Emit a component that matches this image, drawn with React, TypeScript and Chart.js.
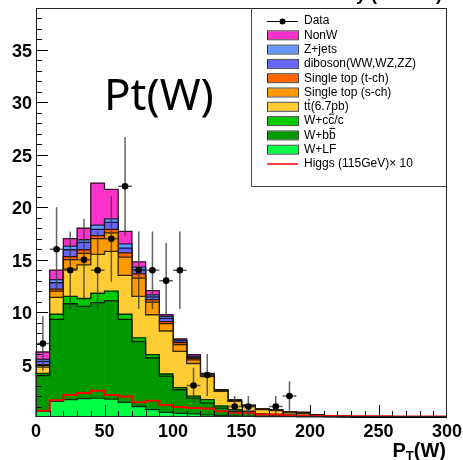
import React, { useEffect, useRef } from 'react';
import { Chart, registerables } from 'chart.js';

Chart.register(...registerables);

// 30 bins of 10 GeV in P_T(W)
const binCenters = [5, 15, 25, 35, 45, 55, 65, 75, 85, 95, 105, 115, 125, 135, 145, 155, 165, 175, 185, 195, 205, 215, 225, 235, 245, 255, 265, 275, 285, 295];
const binEdges = [0, 10, 20, 30, 40, 50, 60, 70, 80, 90, 100, 110, 120, 130, 140, 150, 160, 170, 180, 190, 200, 210, 220, 230, 240, 250, 260, 270, 280, 290, 300];
const xTickValues = [0, 50, 100, 150, 200, 250, 300];
const yTickValues = [5, 10, 15, 20, 25, 30, 35];

// stacked backgrounds (bottom to top)
const wLF = [0.55, 1.5, 1.65, 1.75, 1.8, 1.7, 1.4, 1.0, 0.7, 0.45, 0.35, 0.3, 0.2, 0.15, 0.1, 0.08, 0.05, 0.04, 0.03, 0.02, 0.02, 0.01, 0, 0, 0, 0, 0, 0, 0, 0];
const wBB = [3.4, 7.8, 9.15, 8.8, 9.1, 9.4, 7.9, 6.2, 4.95, 3.45, 2.25, 1.5, 1.15, 0.7, 0.45, 0.37, 0.2, 0.16, 0.12, 0.08, 0.04, 0.03, 0.02, 0.01, 0, 0, 0, 0, 0, 0];
const wCC = [0.2, 0.5, 0.7, 0.75, 0.9, 0.9, 0.5, 0.35, 0.3, 0.2, 0.2, 0.2, 0.3, 0.2, 0.15, 0.1, 0.05, 0.05, 0.05, 0.05, 0.02, 0.01, 0.01, 0.01, 0.01, 0, 0, 0, 0, 0];
const ttbar = [0.6, 1.6, 2.6, 3.2, 3.7, 3.8, 3.7, 3.95, 3.8, 4.1, 3.45, 3.1, 2.2, 1.4, 0.8, 0.45, 0.4, 0.35, 0.2, 0.2, 0.07, 0.05, 0.03, 0.02, 0.01, 0, 0, 0, 0, 0];
const stopS = [0.15, 0.6, 0.9, 1.1, 1.5, 1.75, 1.75, 1.75, 1.2, 0.7, 0.65, 0.35, 0.1, 0.05, 0.05, 0.05, 0.05, 0.05, 0.05, 0.05, 0.02, 0.01, 0, 0, 0, 0, 0, 0, 0, 0];
const stopT = [0.1, 0.2, 0.3, 0.35, 0.3, 0.35, 0.4, 0.4, 0.25, 0.2, 0.2, 0.15, 0.05, 0.05, 0.03, 0.03, 0.02, 0.02, 0.02, 0.02, 0.01, 0, 0, 0, 0, 0, 0, 0, 0, 0];
const diboson = [0.3, 0.6, 0.65, 0.7, 0.6, 0.65, 0.45, 0.4, 0.25, 0.3, 0.15, 0.1, 0.05, 0.02, 0.02, 0.02, 0.01, 0.01, 0.01, 0.01, 0.01, 0, 0, 0, 0, 0, 0, 0, 0, 0];
const zjets = [0.2, 0.3, 0.35, 0.25, 0.4, 0.35, 0.4, 0.25, 0.2, 0.2, 0.1, 0.1, 0.05, 0.02, 0.01, 0.01, 0.01, 0.01, 0.01, 0.01, 0.01, 0, 0, 0, 0, 0, 0, 0, 0, 0];
const nonW = [0.7, 0.9, 0.7, 1.1, 4.0, 2.8, 1.2, 0.5, 0.4, 0.15, 0.1, 0.15, 0.05, 0.01, 0.01, 0.01, 0.01, 0.01, 0.01, 0.01, 0, 0, 0, 0, 0, 0, 0, 0, 0, 0];

// observed data and its uncertainty
const dataCounts = [7, 16, 14, 15, 14, 17, 22, 14, 14, 13, 14, 3, 4, 0, 1, 1, 0, 1, 2, 0, 0, 0, 0, 0, 0, 0, 0, 0, 0, 0];
const dataErrors = [2.6, 4.0, 3.7, 3.9, 3.7, 4.1, 4.7, 3.7, 3.7, 3.6, 3.7, 1.7, 2.0, 0, 1.0, 1.0, 0, 1.0, 1.4, 0, 0, 0, 0, 0, 0, 0, 0, 0, 0, 0];

// Higgs (115 GeV) x 10
const higgs = [0.6, 1.6, 2.1, 2.3, 2.5, 2.1, 1.95, 1.4, 1.55, 1.15, 0.95, 0.85, 0.8, 0.55, 0.4, 0.4, 0.25, 0.25, 0.15, 0.15, 0.1, 0.1, 0.08, 0.08, 0.06, 0.06, 0.05, 0.05, 0.04, 0.04];

const FONT = "'Liberation Sans', Arial, Helvetica, sans-serif";

type Seg = [string, boolean];
const legendRows: { kind: 'data' | 'box' | 'line'; color: string; segs: Seg[] }[] = [
  { kind: 'data', color: '#000', segs: [['Data', false]] },
  { kind: 'box', color: '#ff33cc', segs: [['NonW', false]] },
  { kind: 'box', color: '#6699ff', segs: [['Z+jets', false]] },
  { kind: 'box', color: '#6666ff', segs: [['diboson(WW,WZ,ZZ)', false]] },
  { kind: 'box', color: '#ff6600', segs: [['Single top (t-ch)', false]] },
  { kind: 'box', color: '#ff9900', segs: [['Single top (s-ch)', false]] },
  { kind: 'box', color: '#ffcc33', segs: [['t', false], ['t', true], ['(6.7pb)', false]] },
  { kind: 'box', color: '#00cc00', segs: [['W+c', false], ['c', true], ['/c', false]] },
  { kind: 'box', color: '#009900', segs: [['W+b', false], ['b', true]] },
  { kind: 'box', color: '#00ff44', segs: [['W+LF', false]] },
  { kind: 'line', color: '#ff0000', segs: [['Higgs (115GeV)\u00d7 10', false]] },
];

const backgrounds = [
  { label: 'W+LF', values: wLF, color: '#00ff44' },
  { label: 'W+bb', values: wBB, color: '#009900' },
  { label: 'W+cc/c', values: wCC, color: '#00cc00' },
  { label: 'ttbar', values: ttbar, color: '#ffcc33' },
  { label: 'Single top (s-ch)', values: stopS, color: '#ff9900' },
  { label: 'Single top (t-ch)', values: stopT, color: '#ff6600' },
  { label: 'diboson', values: diboson, color: '#6666ff' },
  { label: 'Z+jets', values: zjets, color: '#6699ff' },
  { label: 'NonW', values: nonW, color: '#ff33cc' },
];

const rootPlugin = {
  id: 'rootStyle',
  beforeDatasetDraw(chart: any, args: any) {
    if (args.index !== 0) return;
    const ctx = chart.ctx;
    const xs = chart.scales.x;
    const ys = chart.scales.y;
    ctx.save();
    ctx.strokeStyle = 'rgba(60,60,60,0.8)';
    ctx.lineWidth = 1.5;
    dataCounts.forEach((n, i) => {
      if (!n) return;
      const px = xs.getPixelForValue(binCenters[i]);
      const py = ys.getPixelForValue(n);
      ctx.beginPath();
      ctx.moveTo(px, ys.getPixelForValue(Math.max(0, n - dataErrors[i])));
      ctx.lineTo(px, ys.getPixelForValue(n + dataErrors[i]));
      ctx.moveTo(xs.getPixelForValue(binEdges[i]), py);
      ctx.lineTo(xs.getPixelForValue(binEdges[i + 1]), py);
      ctx.stroke();
    });
    ctx.restore();
  },
  afterDatasetDraw(chart: any, args: any) {
    const meta = args.meta;
    if (meta.type !== 'bar') return;
    const ctx = chart.ctx;
    ctx.save();
    ctx.strokeStyle = 'rgba(0,0,0,0.8)';
    ctx.lineWidth = 1.3;
    ctx.beginPath();
    meta.data.forEach((el: any, i: number) => {
      const p = el.getProps(['x', 'y', 'width', 'base'], true);
      const l = p.x - p.width / 2;
      const r = p.x + p.width / 2;
      if (i === 0) {
        ctx.moveTo(l, p.base);
        ctx.lineTo(l, p.y);
      } else ctx.lineTo(l, p.y);
      ctx.lineTo(r, p.y);
    });
    ctx.stroke();
    ctx.restore();
  },
  afterDatasetsDraw(chart: any) {
    const ctx = chart.ctx;
    const { left, right, top, bottom } = chart.chartArea;
    const xs = chart.scales.x;
    const ys = chart.scales.y;
    ctx.save();
    ctx.strokeStyle = '#000';
    ctx.lineWidth = 1;
    ctx.beginPath();
    for (let v = 1; v < 39; v++) {
      const y = Math.round(ys.getPixelForValue(v)) + 0.5;
      const len = v % 5 === 0 ? 12 : 6;
      ctx.moveTo(left, y);
      ctx.lineTo(left + len, y);
    }
    for (let v = 10; v < 300; v += 10) {
      const x = Math.round(xs.getPixelForValue(v)) + 0.5;
      const len = v % 50 === 0 ? 12 : 6;
      ctx.moveTo(x, bottom);
      ctx.lineTo(x, bottom - len);
    }
    ctx.stroke();
    ctx.strokeStyle = '#222';
    ctx.strokeRect(Math.round(left) + 0.5, Math.round(top) + 0.5, Math.round(right - left) - 1, Math.round(bottom - top) - 1);
    ctx.restore();
  },
  afterDraw(chart: any) {
    const ctx = chart.ctx;
    const { right, top } = chart.chartArea;
    ctx.save();
    // legend box
    ctx.strokeStyle = '#444';
    ctx.lineWidth = 1;
    ctx.beginPath();
    ctx.moveTo(251.5, top);
    ctx.lineTo(251.5, 186.5);
    ctx.lineTo(right, 186.5);
    ctx.stroke();
    ctx.font = `12px ${FONT}`;
    ctx.textBaseline = 'middle';
    ctx.textAlign = 'left';
    legendRows.forEach((row, i) => {
      const y = 21 + i * 14.3;
      if (row.kind === 'box') {
        ctx.fillStyle = row.color;
        ctx.fillRect(267, y - 4, 31, 8);
        ctx.strokeStyle = 'rgba(0,0,0,0.7)';
        ctx.lineWidth = 1;
        ctx.strokeRect(267.5, y - 4.5, 31, 9);
      } else if (row.kind === 'data') {
        ctx.strokeStyle = '#000';
        ctx.lineWidth = 1;
        ctx.beginPath();
        ctx.moveTo(267, Math.round(y) + 0.5);
        ctx.lineTo(298, Math.round(y) + 0.5);
        ctx.stroke();
        ctx.fillStyle = '#000';
        ctx.beginPath();
        ctx.arc(282.5, Math.round(y) + 0.5, 3, 0, Math.PI * 2);
        ctx.fill();
      } else {
        ctx.strokeStyle = row.color;
        ctx.lineWidth = 1.5;
        ctx.beginPath();
        ctx.moveTo(267, y);
        ctx.lineTo(298, y);
        ctx.stroke();
      }
      ctx.fillStyle = '#000';
      let x = 304;
      row.segs.forEach(([t, bar]) => {
        ctx.fillText(t, x, y);
        const w = ctx.measureText(t).width;
        if (bar) ctx.fillRect(x + 0.5, y - 7.5, w - 1, 1);
        x += w;
      });
    });
    // big title
    ctx.font = "44px 'Noto Sans', 'Open Sans', sans-serif";
    ctx.textBaseline = 'alphabetic';
    ctx.fillText('Pt(W)', 104, 110);
    // clipped header at the very top
    ctx.font = `bold 18px ${FONT}`;
    ctx.textAlign = 'right';
    ctx.fillText('CDF Run II Preliminary (2.7 fb\u207b\u00b9)', 442, 0);
    // x-axis title P_T(W)
    ctx.textAlign = 'left';
    const big = `bold 20px ${FONT}`;
    const small = `bold 13px ${FONT}`;
    ctx.font = big;
    const wP = ctx.measureText('P').width;
    const wW = ctx.measureText('(W)').width;
    ctx.font = small;
    const wT = ctx.measureText('T').width;
    const start = 446 - (wP + wT + wW);
    const base = 457;
    ctx.font = big;
    ctx.fillText('P', start, base);
    ctx.font = small;
    ctx.fillText('T', start + wP, base + 3);
    ctx.font = big;
    ctx.fillText('(W)', start + wP + wT, base);
    ctx.restore();
  },
};

export default function App() {
  const ref = useRef<HTMLCanvasElement>(null);
  useEffect(() => {
    document.body.style.margin = '0';
    const canvas = ref.current;
    if (!canvas) return;
    const datasets: any[] = [
      {
        type: 'line',
        label: 'Data',
        data: binCenters.map((x, i) => ({ x, y: dataCounts[i] > 0 ? dataCounts[i] : null })),
        showLine: false,
        pointRadius: 3.3,
        pointBackgroundColor: '#000',
        pointBorderColor: '#000',
        pointBorderWidth: 0,
        borderColor: '#000',
      },
      {
        type: 'line',
        label: 'Higgs (115GeV) x 10',
        data: [...binEdges.slice(0, 30).map((x, i) => ({ x, y: higgs[i] })), { x: binEdges[30], y: higgs[29] }],
        stepped: 'before',
        borderColor: '#ff0000',
        borderWidth: 2,
        pointRadius: 0,
        fill: false,
      },
      ...backgrounds.map((b) => ({
        type: 'bar',
        label: b.label,
        data: binCenters.map((x, i) => ({ x, y: b.values[i] })),
        backgroundColor: b.color,
        borderWidth: 0,
        stack: 'bkg',
        barPercentage: 1,
        categoryPercentage: 1,
      })),
    ];
    const chart = new Chart(canvas, {
      type: 'bar',
      data: { datasets },
      options: {
        responsive: false,
        animation: false,
        events: [],
        layout: { padding: { top: 8, right: 16, left: 0, bottom: 0 } },
        plugins: { legend: { display: false }, tooltip: { enabled: false }, title: { display: false } },
        scales: {
          x: {
            type: 'linear',
            min: 0,
            max: 300,
            offset: false,
            grid: { display: false, drawTicks: false },
            border: { display: false },
            afterBuildTicks: (s: any) => {
              s.ticks = xTickValues.map((v) => ({ value: v }));
            },
            ticks: {
              autoSkip: false,
              maxRotation: 0,
              padding: 4,
              color: '#000',
              font: { family: FONT, size: 18, weight: 'bold' },
            },
            afterFit: (s: any) => {
              s.height = 43;
              s.paddingLeft = 0;
              s.paddingRight = 0;
              s.paddingTop = 0;
              s.paddingBottom = 0;
            },
          },
          y: {
            type: 'linear',
            min: 0,
            max: 39,
            grid: { display: false, drawTicks: false },
            border: { display: false },
            afterBuildTicks: (s: any) => {
              s.ticks = yTickValues.map((v) => ({ value: v }));
            },
            ticks: {
              padding: 4,
              labelOffset: 2,
              color: '#000',
              font: { family: FONT, size: 18, weight: 'bold' },
            },
            afterFit: (s: any) => {
              s.width = 36;
              s.paddingLeft = 0;
              s.paddingRight = 0;
              s.paddingTop = 0;
              s.paddingBottom = 0;
            },
          },
        },
      } as any,
      plugins: [rootPlugin],
    });
    return () => chart.destroy();
  }, []);
  return <canvas ref={ref} width={463} height={460} style={{ display: 'block' }} />;
}
